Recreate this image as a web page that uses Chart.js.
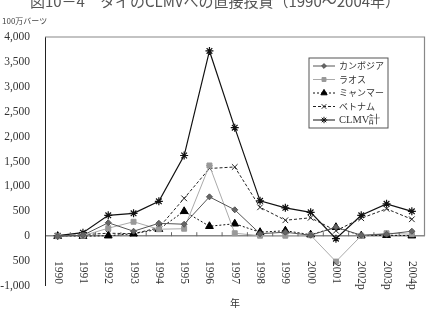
<!DOCTYPE html>
<html>
<head>
<meta charset="utf-8">
<script src="https://cdn.jsdelivr.net/npm/chart.js@4.4.1/dist/chart.umd.min.js"></script>
<style>
  html, body { margin: 0; padding: 0; background: #fff; }
  #wrap { width: 430px; height: 318px; }
</style>
</head>
<body>
<div id="wrap"><canvas id="chart" width="430" height="318"></canvas></div>
<script>
const years = ['1990', '1991', '1992', '1993', '1994', '1995', '1996', '1997', '1998', '1999', '2000', '2001', '2002p', '2003p', '2004p'];
const cambodia = [0, 20, 270, 100, 260, 240, 790, 530, 50, 80, 20, 180, 20, 40, 100];
const laos = [0, 10, 160, 290, 140, 150, 1420, 60, 10, 10, 20, -510, 10, 60, 40];
const myanmar = [0, 0, 10, 50, 140, 500, 200, 250, 80, 110, 30, 180, 10, 20, 10];
const vietnam = [0, 30, 60, 50, 170, 760, 1360, 1390, 580, 320, 370, 110, 360, 550, 340];
const clmv = [10, 70, 420, 460, 700, 1620, 3720, 2180, 710, 570, 480, -50, 420, 650, 500];
const seriesNames = ['カンボジア', 'ラオス', 'ミャンマー', 'ベトナム', 'CLMV計'];
const yTicks = [-1000, -500, 0, 500, 1000, 1500, 2000, 2500, 3000, 3500, 4000];

const serif = '"Liberation Serif", "DejaVu Serif", serif';
const jp = '"Noto Sans CJK JP", sans-serif';

function fmt(v) {
    // the picture shows the -500 tick without its minus sign
    if (v === -500) return '500';
    return v.toLocaleString('en-US');
}

const decor = {
    id: 'decor',
    afterDraw(chart) {
        const ctx = chart.ctx;
        const a = chart.chartArea;
        const x = chart.scales.x;
        const y = chart.scales.y;
        ctx.save();

        // title (cut off at the top in the picture)
        ctx.fillStyle = '#555';
        ctx.font = '15px ' + jp;
        ctx.textAlign = 'center';
        ctx.textBaseline = 'middle';
        ctx.fillText('図10－4　タイのCLMVへの直接投資（1990～2004年）', 215, 1);

        // unit
        ctx.font = '8px ' + jp;
        ctx.textAlign = 'left';
        ctx.fillStyle = '#444';
        ctx.fillText('100万バーツ', 2, 21);

        // top and right frame
        ctx.strokeStyle = '#888';
        ctx.lineWidth = 1.2;
        ctx.beginPath();
        ctx.moveTo(a.left, a.top);
        ctx.lineTo(a.right, a.top);
        ctx.lineTo(a.right, y.getPixelForValue(0));
        ctx.stroke();

        // small ticks on the zero line
        const y0 = y.getPixelForValue(0);
        ctx.strokeStyle = '#666';
        ctx.lineWidth = 1;
        ctx.beginPath();
        for (let i = 0; i < years.length - 1; i++) {
            const bx = (x.getPixelForValue(i) + x.getPixelForValue(i + 1)) / 2;
            ctx.moveTo(bx, y0);
            ctx.lineTo(bx, y0 - 4);
        }
        ctx.stroke();

        // x labels, rotated clockwise
        ctx.fillStyle = '#333';
        ctx.font = '11.5px ' + serif;
        ctx.textAlign = 'left';
        ctx.textBaseline = 'middle';
        years.forEach((yr, i) => {
            ctx.save();
            ctx.translate(x.getPixelForValue(i), 261);
            ctx.rotate(Math.PI / 2);
            ctx.fillText(yr, 0, 0);
            ctx.restore();
        });

        // axis title
        ctx.font = '10px ' + jp;
        ctx.textAlign = 'center';
        ctx.fillText('年', 235, 303);

        // legend
        const lx = 309, ly = 58, lw = 79, lh = 70;
        ctx.fillStyle = '#fff';
        ctx.fillRect(lx, ly, lw, lh);
        ctx.strokeStyle = '#555';
        ctx.lineWidth = 1;
        ctx.strokeRect(lx, ly, lw, lh);
        chart.data.datasets.forEach((ds, i) => {
            const cy = ly + 8 + i * 13.5;
            ctx.strokeStyle = ds.borderColor;
            ctx.lineWidth = 1;
            ctx.setLineDash(ds.borderDash || []);
            ctx.beginPath();
            ctx.moveTo(lx + 4, cy);
            ctx.lineTo(lx + 26, cy);
            ctx.stroke();
            ctx.setLineDash([]);
            ctx.fillStyle = ds.pointBackgroundColor;
            ctx.strokeStyle = ds.pointBorderColor;
            Chart.helpers.drawPoint(ctx, {
                pointStyle: ds.pointStyle,
                radius: ds.pointRadius * 0.8,
                borderWidth: 1
            }, lx + 15, cy);
            ctx.fillStyle = '#333';
            ctx.font = (i === 4 ? '10.5px ' + serif : '9px ' + jp);
            ctx.textAlign = 'left';
            ctx.textBaseline = 'middle';
            ctx.fillText(seriesNames[i], lx + 30, cy);
        });

        ctx.restore();
    }
};

new Chart(document.getElementById('chart'), {
    type: 'line',
    data: {
        labels: years,
        datasets: [
            {
                label: seriesNames[0], data: cambodia,
                borderColor: '#555', borderWidth: 1,
                pointStyle: 'rectRot', pointRadius: 3,
                pointBackgroundColor: '#666', pointBorderColor: '#555'
            },
            {
                label: seriesNames[1], data: laos,
                borderColor: '#aaa', borderWidth: 1,
                pointStyle: 'rect', pointRadius: 3.5,
                pointBackgroundColor: '#999', pointBorderColor: '#999'
            },
            {
                label: seriesNames[2], data: myanmar,
                borderColor: '#111', borderWidth: 1, borderDash: [2, 2],
                pointStyle: 'triangle', pointRadius: 4.5,
                pointBackgroundColor: '#000', pointBorderColor: '#000'
            },
            {
                label: seriesNames[3], data: vietnam,
                borderColor: '#222', borderWidth: 1, borderDash: [3, 2],
                pointStyle: 'crossRot', pointRadius: 4,
                pointBackgroundColor: '#222', pointBorderColor: '#222'
            },
            {
                label: seriesNames[4], data: clmv,
                borderColor: '#111', borderWidth: 1.2,
                pointStyle: 'star', pointRadius: 4,
                pointBackgroundColor: '#111', pointBorderColor: '#111'
            }
        ]
    },
    options: {
        responsive: false,
        animation: false,
        layout: { padding: { top: 37, right: 5, bottom: 32, left: 0 } },
        plugins: {
            legend: { display: false },
            title: { display: false },
            tooltip: { enabled: false }
        },
        elements: { line: { tension: 0 }, point: { borderWidth: 1 } },
        scales: {
            x: {
                display: false,
                offset: true
            },
            y: {
                min: -1000,
                max: 4000,
                afterBuildTicks(scale) {
                    scale.ticks = yTicks.map(v => ({ value: v }));
                },
                afterFit(scale) { scale.width = 45; },
                border: { display: true, color: '#222', width: 1 },
                grid: {
                    drawTicks: false,
                    color: ctx => ctx.tick && ctx.tick.value === 0 ? '#888' : 'rgba(0,0,0,0)',
                    lineWidth: ctx => ctx.tick && ctx.tick.value === 0 ? 1.5 : 0
                },
                ticks: {
                    padding: 15,
                    color: '#333',
                    font: { family: serif, size: 11.5 },
                    callback: v => fmt(v)
                }
            }
        }
    },
    plugins: [decor]
});
</script>
</body>
</html>
